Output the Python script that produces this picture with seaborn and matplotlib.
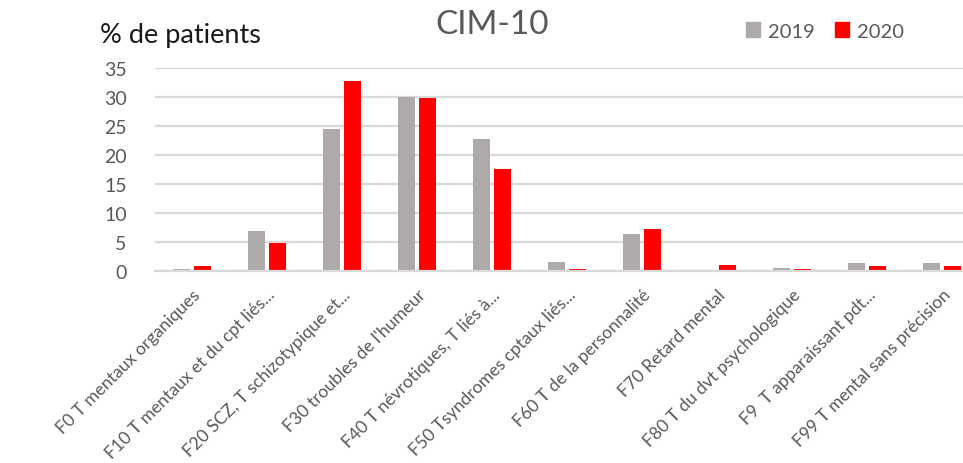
import matplotlib
matplotlib.use("Agg")
import matplotlib.pyplot as plt
import seaborn as sns
import pandas as pd
from matplotlib.patches import Patch

categories = [
    "F0 T mentaux organiques",
    "F10 T mentaux et du cpt liés...",
    "F20 SCZ, T schizotypique et...",
    "F30 troubles de l'humeur",
    "F40 T névrotiques, T liés à...",
    "F50 Tsyndromes cptaux liés...",
    "F60 T de la personnalité",
    "F70 Retard mental",
    "F80 T du dvt psychologique",
    "F9  T apparaissant pdt...",
    "F99 T mental sans précision",
]
values_2019 = [0.4, 6.9, 24.4, 30.0, 22.7, 1.5, 6.4, 0.2, 0.6, 1.3, 1.3]
values_2020 = [0.9, 4.9, 32.8, 29.8, 17.6, 0.3, 7.3, 1.0, 0.3, 0.8, 0.8]
years = ["2019", "2020"]
yticks = [0, 5, 10, 15, 20, 25, 30, 35]

df = pd.DataFrame({
    "cat": categories * 2,
    "val": values_2019 + values_2020,
    "year": [years[0]] * len(categories) + [years[1]] * len(categories),
})

sns.set_theme(style="white")
plt.rcParams["font.family"] = ["Lato", "DejaVu Sans"]

fig = plt.figure(figsize=(9.63, 4.64), dpi=100)
ax = fig.add_axes([154.5 / 963, 1 - 272 / 464, (979.5 - 154.5) / 963, (272 - 69) / 464])

sns.barplot(data=df, x="cat", y="val", hue="year", order=categories,
            hue_order=years, palette=["#AEAAAA", "#FF0000"], width=0.56,
            gap=0.19, ax=ax, legend=False, edgecolor="none", saturation=1)

ax.set_ylim(0, 35)
ax.set_xlim(-0.5, len(categories) - 0.5)
ax.set_yticks(yticks)
ax.yaxis.grid(True, color="#D9D9D9", linewidth=1.6)
ax.set_axisbelow(True)
for s in ["top", "right", "left"]:
    ax.spines[s].set_visible(False)
ax.spines["bottom"].set_color("#D9D9D9")
ax.spines["bottom"].set_linewidth(1.6)
ax.tick_params(axis="y", length=0, pad=20, labelsize=14, labelcolor="#595959")
ax.tick_params(axis="x", length=0, pad=11, labelsize=12.6, labelcolor="#595959")
ax.set_xlabel("")
ax.set_ylabel("")
plt.setp(ax.get_xticklabels(), rotation=45, ha="right", rotation_mode="anchor")

fig.text(492 / 963, 1 - 25 / 464, "CIM-10", ha="center", va="center",
         fontsize=24, color="#595959")
fig.text(100 / 963, 1 - 36 / 464, "% de patients", ha="left", va="center",
         fontsize=19.5, color="#1a1a1a")

handles = [Patch(color="#AEAAAA", label="2019"), Patch(color="#FF0000", label="2020")]
fig.legend(handles=handles, loc="center", bbox_to_anchor=(825 / 963, 1 - 32 / 464),
           ncol=2, frameon=False, fontsize=14.5, handlelength=0.7, handleheight=0.7,
           handletextpad=0.4, columnspacing=1.0, labelcolor="#595959")

fig.savefig("out.png", dpi=100)
